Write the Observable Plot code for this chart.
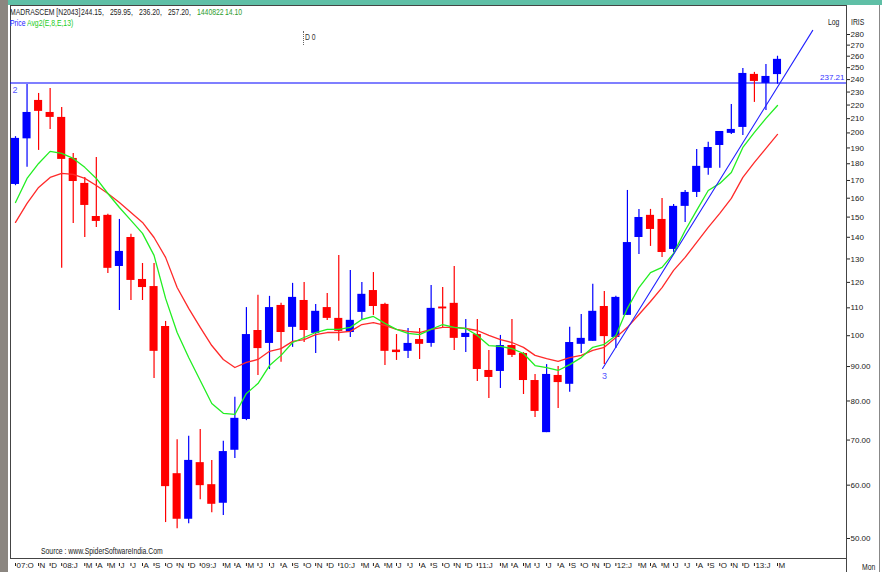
<!DOCTYPE html>
<html><head><meta charset="utf-8">
<script src="https://cdn.jsdelivr.net/npm/d3@7"></script>
<script src="https://cdn.jsdelivr.net/npm/@observablehq/plot@0.6"></script>
<style>
body{margin:0;background:#fff;}
#wrap{position:relative;width:882px;height:572px;overflow:hidden;background:#fff;font-family:"Liberation Sans Narrow","Arial Narrow","Liberation Sans",sans-serif;}
#chart{position:absolute;left:0;top:0;}
.t{position:absolute;white-space:pre;font-size:9px;line-height:10px;color:#222;transform:scaleX(0.76);transform-origin:0 0;}
.h{top:7px;}
</style></head><body>
<div id="wrap">
<div id="chart"></div>
<div style="position:absolute;left:0;top:0;width:882px;height:5px;background:#5fbfa6"></div>
<div style="position:absolute;left:0;top:0;width:8px;height:572px;background:#8b8680"></div>
<div style="position:absolute;left:846px;top:558px;width:1px;height:14px;background:#444"></div>
<div style="position:absolute;left:879px;top:5px;width:1px;height:567px;background:#888"></div>
<div style="position:absolute;left:303px;top:31px;width:0;height:14px;border-left:1px dotted #666"></div>
<div class="t h" style="left:10px;">MADRASCEM [N2043]</div>
<div class="t h" style="left:81px;">244.15,</div>
<div class="t h" style="left:110px;">259.95,</div>
<div class="t h" style="left:139px;">236.20,</div>
<div class="t h" style="left:168px;">257.20,</div>
<div class="t h" style="left:197px;color:#2c9c2c">1440822</div>
<div class="t h" style="left:225px;color:#2c9c2c">14.10</div>
<div class="t" style="left:10px;top:18px;color:#1a1aff">Price</div>
<div class="t" style="left:27px;top:18px;color:#22cc22">Avg2(E,8,E,13)</div>
<div class="t" style="left:305px;top:32px;color:#333">D 0</div>
<div class="t" style="left:828px;top:17px;">Log</div>
<div class="t" style="left:851px;top:17px;">IRIS</div>
<div class="t" style="left:41px;top:546px;">Source : www.SpiderSoftwareIndia.Com</div>
<div class="t" style="left:862px;top:562px;">Mon</div>
</div>
<script>
const months = ["2007-09","2007-10","2007-11","2007-12","2008-01","2008-02","2008-03","2008-04","2008-05","2008-06","2008-07","2008-08","2008-09","2008-10","2008-11","2008-12","2009-01","2009-02","2009-03","2009-04","2009-05","2009-06","2009-07","2009-08","2009-09","2009-10","2009-11","2009-12","2010-01","2010-02","2010-03","2010-04","2010-05","2010-06","2010-07","2010-08","2010-09","2010-10","2010-11","2010-12","2011-01","2011-02","2011-03","2011-04","2011-05","2011-06","2011-07","2011-08","2011-09","2011-10","2011-11","2011-12","2012-01","2012-02","2012-03","2012-04","2012-05","2012-06","2012-07","2012-08","2012-09","2012-10","2012-11","2012-12","2013-01","2013-02","2013-03"];
const open = [167.7,196,223.5,214.5,210.9,183.3,168.3,150.3,150.9,126.7,139.9,121.2,118.3,103.2,62.4,53.4,64.8,60.1,56.4,67.6,75.1,101.8,97.4,110.9,102.9,112.8,100.8,110.1,106.1,101.1,108.3,116.7,111.3,95.2,94.8,98.7,97.4,110.3,111.7,99.4,100.4,88.8,88.5,96.7,94.1,85.8,71.8,87.3,84.7,97.1,98.1,110.5,99.4,107.2,139.9,150.9,148.8,134.3,155.6,163.2,177.2,191.6,199.7,203.8,244.3,236.9,244.15];
const high = [197.5,236,228.9,232.9,218.2,186.5,171.8,183.9,151.5,148.8,141.4,128,128,105,70.1,70.9,72.6,65.3,69.7,81.0,110.1,114.8,114.4,111.7,119.6,120.0,111.3,115.5,131.6,125,120,124.1,111.7,100.4,102.5,102.5,118.7,117.9,126.7,105.7,105.7,95.1,100.1,105.7,94.4,87.6,90.6,90.0,102.9,107.5,119.2,116.3,114.4,164.3,154,154,159.9,156.6,164.3,189.0,193.7,201.0,220.5,249.3,246.0,252.8,259.95];
const low = [167,177.8,188.4,202.4,125.9,146.8,139.9,144.8,123.7,109.0,112.8,112.8,86.4,52.8,51.7,52.6,57.1,54.6,54.1,65.7,74.8,87.3,89.1,91.3,96.1,97.7,94.1,105.3,98.1,99.4,105.7,107.2,90.3,91.9,92.5,92.2,96.1,102.5,95.1,94.4,85.5,80.7,83.5,92.8,81.8,75.6,71.8,78.0,82.4,94.1,98.1,90.6,95.7,107.2,132,135.7,130.7,132.9,147.3,160.4,173.0,177.2,199,198.3,222.0,216.0,236.20];
const close = [196.3,214.5,215.3,210.9,182.7,169.4,156.1,147.8,125.9,133.4,120.8,117.9,94.8,59.7,53.4,65.3,59.9,56.2,67.3,75.4,100.4,95.7,110.1,101.1,114.0,101.8,108.7,106.1,101.5,105.4,115.2,110.5,94.8,94.4,97.4,97.1,109.8,109.6,99.1,100.8,89.1,86.7,96.7,93.5,85.8,77.2,87.6,85.2,97.7,99.1,108.7,99.7,114.0,137.5,149.8,143.8,132.9,155.6,163.2,178.4,190.3,201.0,202.4,245.1,238.5,242.6,257.20];
const ema8 = [157.7,171.2,180.2,187.8,186.5,183.3,177.8,171.2,162.6,155.0,148.3,141.9,131.6,113.6,101.1,92.8,85.8,79.3,76.7,76.4,82.1,84.9,90.3,93.5,97.7,99.4,101.1,102.2,102.2,102.9,105.7,106.8,104.3,102.2,100.8,100.4,102.2,103.9,102.9,102.5,100.1,96.7,96.4,95.7,94.1,90.3,89.7,88.8,90.6,92.8,96.1,97.1,100.1,109.8,117.9,124.1,126.3,132.5,143.3,153.5,164.3,168.3,174.7,190.3,200.4,210.2,219.7];
const ema13 = [147.3,157.2,166.0,171.8,174.2,173.6,171.2,167.1,162.6,157.7,152.4,147.3,139.9,130.7,117.9,109.8,102.9,96.7,92.2,89.7,91.3,92.2,94.8,95.7,98.1,98.7,100.4,101.1,101.1,101.5,103.9,104.6,103.6,102.2,101.5,101.1,102.2,102.9,102.9,102.5,101.8,100.1,98.7,97.7,96.1,93.5,92.5,91.6,92.8,93.5,95.1,96.1,99.4,102.9,107.5,112.4,117.9,125.0,130.7,137.6,144.8,151.9,159.9,171.8,180.8,189.7,199.0];
const tickIdx = [0,2,3,4,6,7,8,9,10,11,12,13,14,15,16,18,19,20,21,22,23,24,25,26,27,28,30,31,32,33,34,35,36,37,38,39,40,42,43,44,45,46,47,48,49,50,51,52,54,55,56,57,58,59,60,61,62,63,64,66];
const tickText = ["07:O","N","D","08:J","M","A","M","J","J","A","S","O","N","D","09:J","M","A","M","J","J","A","S","O","N","D","10:J","M","A","M","J","J","A","S","O","N","D","11:J","M","A","M","J","J","A","S","O","N","D","12:J","M","A","M","J","J","A","S","O","N","D","13:J","M"];
const yTicks = [50,60,70,80,90,100,110,120,130,140,150,160,170,180,190,200,210,220,230,240,250,260,270,280];
const trendIdx = [50.85, 69.05];
const trendVal = [89.4, 284];
const hLevel = 237.21;

const data = months.map((m, i) => ({i, m, o: open[i], h: high[i], l: low[i], c: close[i], e8: ema8[i], e13: ema13[i]}));
const col = d => d.c >= d.o ? "#0000ff" : "#ff0000";
const trend = trendIdx.map((x, k) => ({x, y: trendVal[k]}));
const ff = '"Liberation Sans Narrow","Arial Narrow","Liberation Sans",sans-serif';

const chart = Plot.plot({
  width: 882, height: 572,
  marginTop: 5, marginLeft: 10, marginRight: 36, marginBottom: 14,
  style: {fontFamily: ff, fontSize: "8px", background: "transparent", color: "#222"},
  x: {type: "linear", domain: [0, 66], range: [15, 777]},
  y: {type: "log", domain: [50, 280], range: [538, 34]},
  marks: [
    Plot.frame({stroke: "#444"}),
    Plot.ruleY([hLevel], {stroke: "#0000ff", strokeWidth: 1.2}),
    Plot.ruleX(data, {x: "i", y1: "l", y2: "h", stroke: col, strokeWidth: 1.2}),
    Plot.rect(data, {x1: d => d.i - 0.35, x2: d => d.i + 0.35, y1: "o", y2: "c", fill: col}),
    Plot.line(data, {x: "i", y: "e13", stroke: "#ff2a2a", strokeWidth: 1.3}),
    Plot.line(data, {x: "i", y: "e8", stroke: "#22ee22", strokeWidth: 1.3}),
    Plot.line(trend, {x: "x", y: "y", stroke: "#2222ff", strokeWidth: 1.1}),
    Plot.text([hLevel], {y: d => d, frameAnchor: "right", dx: -2, dy: -6, text: d => d.toFixed(2), textAnchor: "end", fill: "#3333ff", fontSize: 8}),
    Plot.text([hLevel], {y: d => d, frameAnchor: "left", dx: 2, dy: 7, text: () => "2", textAnchor: "start", fill: "#5555ff", fontSize: 9}),
    Plot.text([trend[0]], {x: "x", y: "y", dx: 2, dy: 8, text: () => "3", fill: "#5555ff", fontSize: 9}),
    Plot.axisY({anchor: "right", ticks: yTicks, tickFormat: d => d >= 100 ? String(d) : d.toFixed(2), tickSize: 3, tickPadding: 1, label: null, fontSize: 8}),
    Plot.axisX({ticks: tickIdx, tickFormat: () => "", tickSize: 3, dy: 5, label: null}),
    Plot.axisX({ticks: tickIdx, tickFormat: i => tickText[tickIdx.indexOf(i)], tickSize: 0, tickPadding: 4, textAnchor: "start", dx: 1, label: null, fontSize: 8})
  ]
});
document.getElementById("chart").appendChild(chart);
</script>
</body></html>
